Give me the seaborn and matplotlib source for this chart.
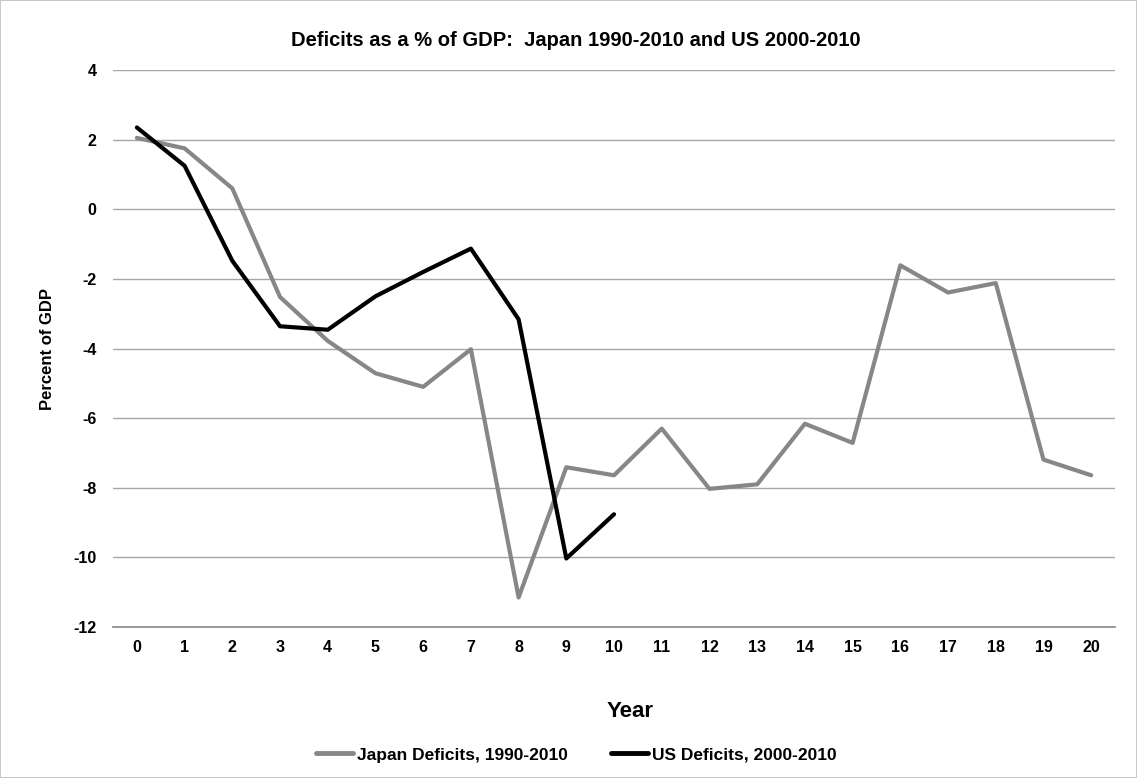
#!/usr/bin/env python3

import pandas as pd
import matplotlib.pyplot as plt
import seaborn as sns


YEARS_JAPAN = list(range(21))
JAPAN = [2.05, 1.75, 0.6, -2.52, -3.78, -4.71, -5.1, -4.02, -11.15, -7.41, -7.64,
         -6.3, -8.03, -7.9, -6.16, -6.71, -1.61, -2.39, -2.12, -7.19, -7.64]

YEARS_US = list(range(11))
US = [2.35, 1.25, -1.48, -3.36, -3.46, -2.5, -1.8, -1.13, -3.16, -10.03, -8.76]

SERIES = ["Japan Deficits, 1990-2010", "US Deficits, 2000-2010"]
Y_TICKS = [4, 2, 0, -2, -4, -6, -8, -10, -12]

COLORS = {SERIES[0]: "#878787", SERIES[1]: "#000000"}


def main():
    df = pd.concat([
        pd.DataFrame({"Year": YEARS_JAPAN, "Deficit": JAPAN, "Series": SERIES[0]}),
        pd.DataFrame({"Year": YEARS_US, "Deficit": US, "Series": SERIES[1]}),
    ])

    sns.set_theme(style="white")
    plt.rcParams["font.family"] = ["Liberation Sans", "DejaVu Sans"]
    plt.rcParams["font.weight"] = "bold"
    plt.rcParams["axes.unicode_minus"] = False
    plt.rcParams["text.color"] = "black"
    plt.rcParams["axes.labelcolor"] = "black"
    plt.rcParams["xtick.color"] = "black"
    plt.rcParams["ytick.color"] = "black"

    fig = plt.figure(figsize=(11.37, 7.78), dpi=100)
    fig.patch.set_edgecolor("#c8c8c8")
    fig.patch.set_linewidth(1.2)
    ax = fig.add_axes([0.0994, 0.194, 0.8813, 0.716])

    sns.lineplot(
        data=df,
        x="Year",
        y="Deficit",
        hue="Series",
        palette=COLORS,
        linewidth=3,
        ax=ax,
        legend=False,
        zorder=3,
    )

    ax.set_xlim(-0.5, 20.5)
    ax.set_ylim(-12, 4)
    ax.set_xticks(YEARS_JAPAN)
    ax.set_yticks(Y_TICKS)
    ax.tick_params(axis="both", length=0, labelsize=11.5)
    ax.tick_params(axis="x", pad=9)
    ax.tick_params(axis="y", pad=12)
    for lab in ax.get_xticklabels() + ax.get_yticklabels():
        lab.set_fontweight("bold")
    ax.grid(axis="y", color="#a6a6a6", linewidth=1)
    for side in ["top", "right", "left"]:
        ax.spines[side].set_visible(False)
    ax.spines["bottom"].set_color("#8c8c8c")

    fig.suptitle("Deficits as a % of GDP:  Japan 1990-2010 and US 2000-2010",
                 x=0.506, y=1 - 40 / 778, va="center", fontsize=14.5, fontweight="bold")

    ax.set_xlabel("Year", fontsize=16, fontweight="bold")
    ax.xaxis.set_label_coords(0.516, -0.151)
    ax.xaxis.label.set_va("center")

    ax.set_ylabel("Percent of GDP", fontsize=12, fontweight="bold")
    ax.yaxis.set_label_coords(-0.065, 0.5)
    ax.yaxis.label.set_va("center")

    handles = [plt.Line2D([], [], color=COLORS[s], linewidth=3.5) for s in SERIES]
    fig.legend(handles, SERIES, loc="center", bbox_to_anchor=(0.507, 0.0296), ncol=2,
               frameon=False, prop={"weight": "bold", "size": 12.5},
               handlelength=2.1, handletextpad=0.25, columnspacing=2.5)

    fig.savefig("out.png", dpi=100)
    plt.close(fig)


if __name__ == "__main__":
    main()
